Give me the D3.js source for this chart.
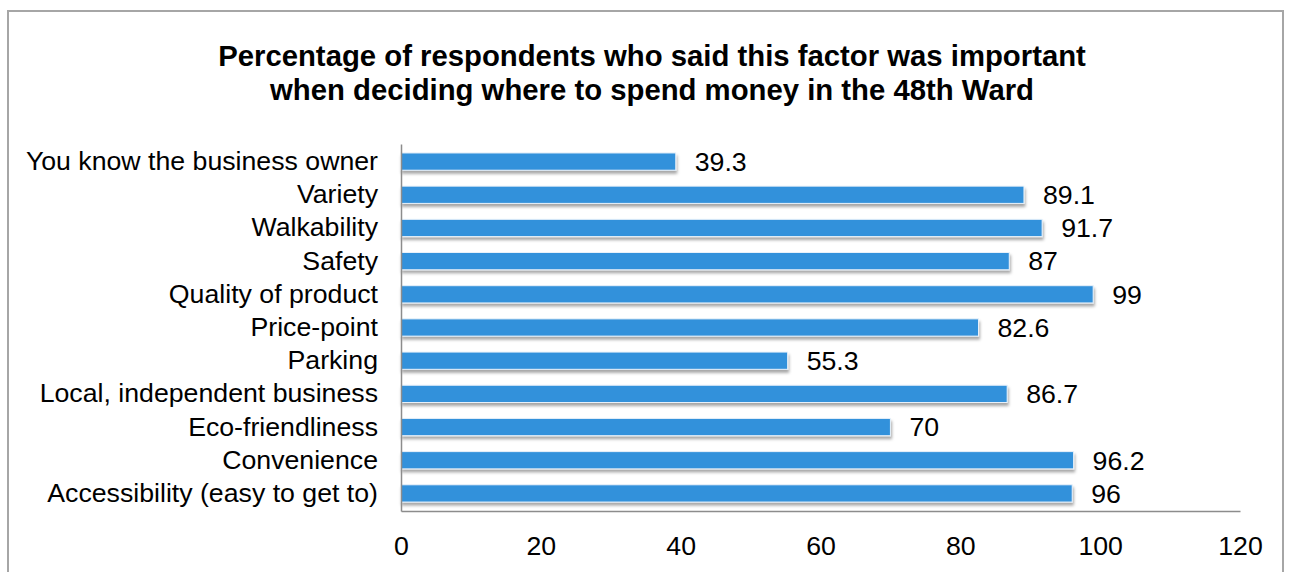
<!DOCTYPE html>
<html>
<head>
<meta charset="utf-8">
<script src="https://cdn.jsdelivr.net/npm/d3@7"></script>
<style>
  body { margin: 0; background: #fff; }
  svg { display: block; font-family: Arial, "Liberation Sans", sans-serif; }
</style>
</head>
<body>
<div id="chart"></div>
<script>
// categories from top to bottom, as drawn
let categories = ['You know the business owner', 'Variety', 'Walkability', 'Safety',
  'Quality of product', 'Price-point', 'Parking', 'Local, independent business',
  'Eco-friendliness', 'Convenience', 'Accessibility (easy to get to)'];
let values = [39.3, 89.1, 91.7, 87, 99, 82.6, 55.3, 86.7, 70, 96.2, 96];
let tickValues = [0, 20, 40, 60, 80, 100, 120];
let titleLines = ['Percentage of respondents who said this factor was important',
  'when deciding where to spend money in the 48th Ward'];

let width = 1291;
let height = 572;
let margin = {top: 144, left: 401, right: 51, bottom: 61};
let fontSize = '26.7px';

let svg = d3.select('#chart').append('svg').attr('width', width).attr('height', height);

// drop shadow under the bars
let defs = svg.append('defs');
let f = defs.append('filter').attr('id', 'shadow').attr('x', '-5%').attr('y', '-50%').attr('width', '110%').attr('height', '220%');
f.append('feDropShadow').attr('dx', 1).attr('dy', 3).attr('stdDeviation', 1.5)
  .attr('flood-color', '#000').attr('flood-opacity', 0.35);

// outer frame
svg.append('rect').attr('x', 8).attr('y', 11).attr('width', 1275).attr('height', 600)
  .attr('fill', 'none').attr('stroke', '#a6a6a6').attr('stroke-width', 2);

// title
svg.append('text').attr('x', 652).attr('y', 66).attr('text-anchor', 'middle')
  .style('font-size', '29.3px').style('font-weight', 'bold')
  .selectAll('tspan').data(titleLines).join('tspan')
  .attr('x', 652).attr('dy', (d, i) => i === 0 ? 0 : 34).text(d => d);

let x = d3.scaleLinear().domain([0, 120]).range([margin.left, width - margin.right]);
let y = d3.scaleBand().domain(categories).range([margin.top, height - margin.bottom]).paddingInner(0.48).paddingOuter(0.27);

// bars
svg.append('g').selectAll('rect').data(values).join('rect')
  .attr('x', x(0))
  .attr('y', (d, i) => y(categories[i]))
  .attr('width', d => x(d) - x(0))
  .attr('height', y.bandwidth())
  .attr('fill', '#3391db')
  .attr('stroke', '#e8f1fa').attr('stroke-width', 1)
  .attr('filter', 'url(#shadow)');

// value labels
svg.append('g').selectAll('text').data(values).join('text')
  .attr('x', d => x(d) + 19)
  .attr('y', (d, i) => y(categories[i]) + y.bandwidth() / 2)
  .attr('dy', '0.35em')
  .style('font-size', fontSize)
  .text(d => d);

// x axis
let xAxis = svg.append('g').attr('transform', `translate(0,${height - margin.bottom})`)
  .call(d3.axisBottom(x).tickValues(tickValues).tickSize(0).tickPadding(25));
xAxis.select('.domain').attr('stroke', '#8c8c8c').attr('stroke-width', 1.5);
xAxis.selectAll('text').style('font-size', fontSize).style('font-family', 'Arial, "Liberation Sans", sans-serif').attr('fill', '#000');

// y axis
let yAxis = svg.append('g').attr('transform', `translate(${margin.left},0)`)
  .call(d3.axisLeft(y).tickSize(0).tickPadding(23));
yAxis.select('.domain').attr('stroke', '#8c8c8c').attr('stroke-width', 1.5);
yAxis.selectAll('text').style('font-size', fontSize).style('font-family', 'Arial, "Liberation Sans", sans-serif').attr('fill', '#000');
</script>
</body>
</html>
